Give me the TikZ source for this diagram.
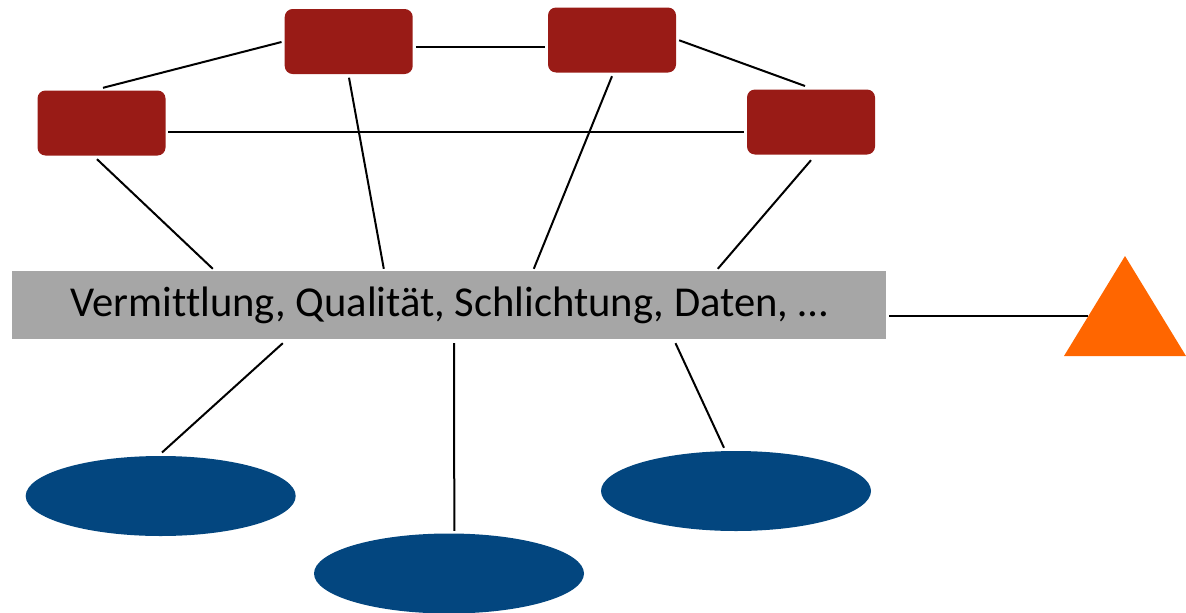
\documentclass[tikz,border=0pt]{standalone}
\usepackage{fontspec}
\setmainfont[Ligatures=NoCommon]{Carlito}
\usetikzlibrary{calc,shapes.geometric}
\definecolor{boxred}{HTML}{991B16}
\definecolor{ellblue}{HTML}{03467F}
\definecolor{bargray}{HTML}{A6A6A6}
\definecolor{triorange}{HTML}{FF6600}
\tikzset{
  redbox/.style={fill=boxred, rounded corners=8pt, minimum width=128pt, minimum height=65pt, inner sep=0pt, draw=none},
  blueell/.style={fill=ellblue, ellipse, minimum width=270pt, minimum height=80pt, inner sep=0pt, draw=none},
  conn/.style={line width=2pt, black},
  barbox/.style={fill=bargray, minimum width=874pt, minimum height=68pt, inner sep=0pt, font=\fontsize{42.6}{50}\selectfont}
}
\begin{document}
\begin{tikzpicture}[x=1pt,y=-1pt]
\useasboundingbox (0,0) rectangle (1186,613);
\node[redbox] (R1) at (101.5,123) {};
\node[redbox] (R2) at (348.7,41.5) {};
\node[redbox] (R3) at (612,40) {};
\node[redbox] (R4) at (811,122) {};
\node[barbox] (bar) at (449,305) {\raisebox{-2.5pt}{Vermittlung, Qualität, Schlichtung, Daten, …}};
\node[blueell] (E1) at (160.7,496) {};
\node[blueell] (E2) at (449,573.5) {};
\node[blueell] (E3) at (736,491) {};
\fill[triorange] (1064,356) -- (1125,256) -- (1186,356) -- cycle;
\coordinate (tri) at (1088.4,316);
% connectors between red boxes
\draw[conn] ($(R1.north)+(1.5,-2.5)$) -- ($(R2.west)+(-3,0.5)$);
\draw[conn] ($(R2.east)+(3,5.2)$) -- ($(R3.west)+(-3,6.7)$);
\draw[conn] ($(R3.east)+(3,0.3)$) -- ($(R4.north)+(-6,-3.3)$);
\draw[conn] ($(R1.east)+(2.5,8.7)$) -- ($(R4.west)+(-3,9.7)$);
% red boxes to bar
\draw[conn] ($(R1.south)+(-4.5,3.5)$) -- ($(bar.north west)+(201,-2)$);
\draw[conn] ($(R2.south)+(0.3,3.5)$) -- ($(bar.north west)+(372,-2)$);
\draw[conn] ($(R3.south)+(0,3.5)$) -- ($(bar.north west)+(522,-2)$);
\draw[conn] ($(R4.south)+(0,5.5)$) -- ($(bar.north west)+(706,-2)$);
% bar to ellipses
\draw[conn] ($(bar.south west)+(271,4)$) -- ($(E1.north)+(1.3,-3.3)$);
\draw[conn] ($(bar.south west)+(442.3,4)$) -- ($(E2.north)+(5.3,-2.5)$);
\draw[conn] ($(bar.south west)+(663.7,4)$) -- ($(E3.north)+(-12,-3)$);
% bar to triangle
\draw[conn] ($(bar.east)+(3,11)$) -- (tri);
\end{tikzpicture}
\end{document}
